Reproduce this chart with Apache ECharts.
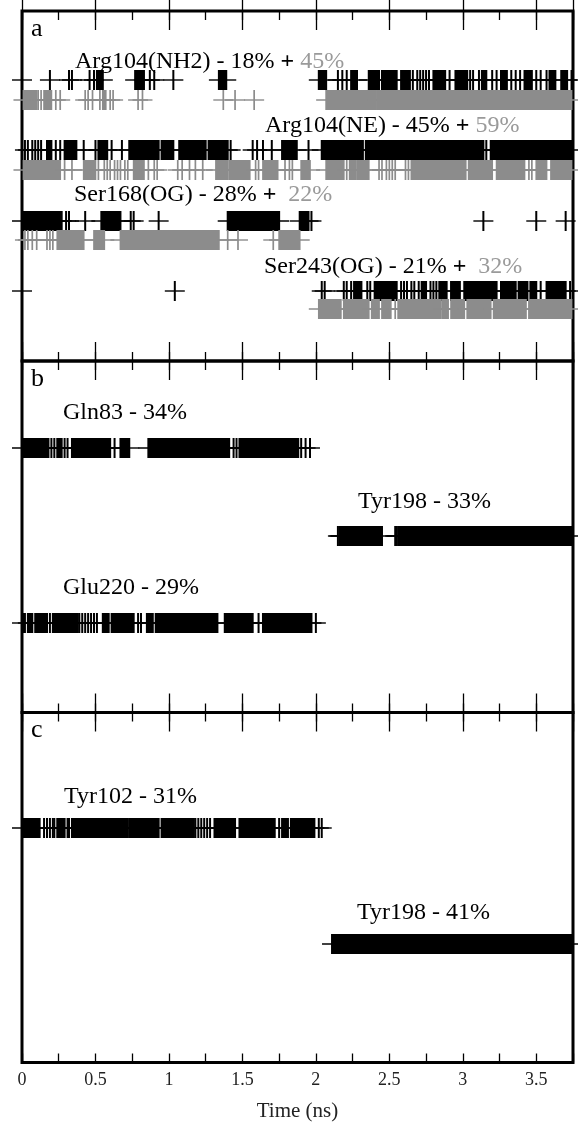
<!DOCTYPE html>
<html>
<head>
<meta charset="utf-8">
<title>H-bond occupancy</title>
<script src="https://cdn.jsdelivr.net/npm/echarts@6/dist/echarts.min.js"></script>
<style>
  html, body { margin: 0; padding: 0; background: #fff; }
  #chart { width: 578px; height: 1123px; }
</style>
</head>
<body>
<div id="chart"></div>
<script>
// time axis, ns
const timeMax = 3.75;

// events: a number is one frame, [a, b] a run of frames
// panel a
const nh2Black = [0, 0.19, 0.32, 0.34, 0.46, 0.49, [0.51, 0.55], [0.77, 0.82], 0.83, 0.87, 0.90, 1.03,
  [1.34, 1.39], [2.02, 2.07], 2.15, 2.18, 2.21, [2.24, 2.28], [2.36, 2.43], [2.45, 2.55], [2.58, 2.64],
  2.66, 2.69, 2.71, 2.73, 2.75, 2.77, [2.80, 2.88], 2.91, [2.95, 3.03], 3.05, 3.07, 3.11, [3.13, 3.16],
  3.20, 3.23, [3.26, 3.30], 3.33, 3.36, 3.39, [3.42, 3.47], 3.50, 3.53, 3.57, [3.59, 3.63], [3.67, 3.71], 3.74];
const nh2Grey = [[0.01, 0.10], 0.11, 0.13, [0.15, 0.20], 0.23, 0.26, 0.43, 0.45, 0.48, 0.53, [0.55, 0.57],
  0.60, 0.62, 0.79, 0.82, 1.37, 1.45, 1.58, [2.07, 2.41], [2.42, 3.74]];
const neBlack = [0.02, 0.04, 0.07, 0.09, 0.11, 0.13, [0.17, 0.20], 0.23, 0.26, [0.29, 0.37], 0.42, 0.50,
  [0.52, 0.58], 0.61, 0.68, [0.73, 0.82], [0.83, 0.93], [0.95, 1.03], [1.07, 1.25], [1.27, 1.40], 1.42,
  1.57, 1.60, 1.64, 1.70, [1.77, 1.87], 1.95, [2.04, 2.32], [2.34, 3.14], 3.16, [3.19, 3.74]];
const neGrey = [[0.01, 0.26], 0.29, 0.34, [0.42, 0.50], 0.52, 0.56, 0.58, 0.60, 0.63, 0.65, 0.67, 0.70, 0.72,
  [0.76, 0.83], 0.86, 0.90, 0.92, 1.06, 1.09, 1.14, 1.18, 1.23, [1.32, 1.40], [1.41, 1.55], 1.59, 1.61,
  [1.64, 1.74], 1.79, 1.82, 1.84, [1.90, 1.96], [2.07, 2.19], 2.21, [2.23, 2.27], [2.28, 2.36], 2.43, 2.45,
  2.48, 2.50, 2.52, 2.54, 2.61, 2.63, [2.65, 3.02], [3.04, 3.20], [3.23, 3.42], 3.45, 3.47, [3.50, 3.57], [3.60, 3.74]];
const ser168Black = [[0, 0.27], 0.30, 0.32, 0.43, [0.54, 0.67], 0.74, 0.76, 0.93, [1.40, 1.75], [1.89, 1.95],
  1.97, 3.14, 3.50, 3.70];
const ser168Grey = [0.02, 0.04, 0.07, 0.10, 0.17, 0.19, 0.21, 0.24, [0.25, 0.42], [0.49, 0.56], [0.67, 1.34],
  1.40, 1.47, 1.71, [1.75, 1.89]];
const ser243Black = [0, 1.04, 2.04, 2.06, 2.19, 2.21, 2.24, [2.26, 2.31], 2.35, 2.37, [2.40, 2.48], [2.49, 2.55],
  2.58, 2.60, 2.62, 2.65, 2.67, 2.70, [2.72, 2.75], 2.78, 2.80, 2.82, [2.84, 2.89], [2.92, 2.98], [3.01, 3.16],
  [3.17, 3.23], [3.26, 3.36], [3.38, 3.44], [3.46, 3.50], 3.53, [3.57, 3.70], 3.73];
const ser243Grey = [[2.02, 2.17], [2.19, 2.36], [2.38, 2.43], [2.45, 2.51], 2.54, [2.56, 2.85], [2.86, 2.90],
  [2.92, 3.01], 3.03, [3.04, 3.19], [3.21, 3.43], [3.45, 3.74]];
// panel b
const gln83 = [[0, 0.17], 0.18, 0.20, 0.22, [0.24, 0.27], 0.29, 0.31, [0.34, 0.60], 0.63, [0.67, 0.73],
  [0.86, 1.41], 1.44, 1.46, [1.48, 1.88], 1.90, 1.93, 1.96];
const tyr198b = [2.15, 2.16, [2.17, 2.45], 2.54, 2.55, [2.56, 3.75]];
const glu220 = [[0, 0.02], [0.04, 0.07], [0.09, 0.17], 0.19, [0.21, 0.38], 0.39, 0.41, 0.43, 0.45, 0.47, 0.49,
  0.51, [0.55, 0.59], [0.61, 0.76], 0.79, 0.81, [0.85, 0.89], [0.91, 1.22], [1.23, 1.33], [1.38, 1.57], 1.61,
  [1.64, 1.97], 2.00];
// panel c
const tyr102 = [[0, 0.12], 0.15, 0.17, 0.19, 0.21, 0.22, [0.24, 0.29], 0.31, 0.32, [0.34, 0.49], [0.50, 0.72],
  [0.73, 0.93], [0.95, 1.17], 1.18, 1.20, 1.22, 1.24, 1.26, 1.28, [1.31, 1.45], [1.48, 1.72], 1.75, [1.77, 1.81],
  [1.83, 1.99], 2.02, 2.04];
const tyr198c = [[2.11, 2.46], [2.47, 3.75]];

const BLACK = '#000';
const GREY = '#8c8c8c';
const FONT = '"Liberation Serif", "DejaVu Serif", serif';

// panels (pixel boxes) and row levels, px below panel top
const panels = [
  { top: 11, height: 350, letter: 'a' },
  { top: 361, height: 351.5, letter: 'b' },
  { top: 712.5, height: 350, letter: 'c' }
];
const rows = [
  { panel: 0, level: 69, color: BLACK, events: nh2Black },
  { panel: 0, level: 89, color: GREY, events: nh2Grey },
  { panel: 0, level: 139, color: BLACK, events: neBlack },
  { panel: 0, level: 159, color: GREY, events: neGrey },
  { panel: 0, level: 210, color: BLACK, events: ser168Black },
  { panel: 0, level: 229, color: GREY, events: ser168Grey },
  { panel: 0, level: 280, color: BLACK, events: ser243Black },
  { panel: 0, level: 298, color: GREY, events: ser243Grey },
  { panel: 1, level: 87, color: BLACK, events: gln83 },
  { panel: 1, level: 175, color: BLACK, events: tyr198b },
  { panel: 1, level: 262, color: BLACK, events: glu220 },
  { panel: 2, level: 115.5, color: BLACK, events: tyr102 },
  { panel: 2, level: 231.5, color: BLACK, events: tyr198c }
];
// row captions: [text, grey part, left, middle y]
const captions = [
  ['Arg104(NH2) - 18% ', '45%', 75, 62],
  ['Arg104(NE) - 45% ', '59%', 265, 126],
  ['Ser168(OG) - 28% ', ' 22%', 74, 195],
  ['Ser243(OG) - 21% ', ' 32%', 264, 267],
  ['Gln83 - 34%', null, 63, 413],
  ['Tyr198 - 33%', null, 358, 502],
  ['Glu220 - 29%', null, 63, 588],
  ['Tyr102 - 31%', null, 64, 797],
  ['Tyr198 - 41%', null, 357, 913]
];

function toItems(events, level) {
  return events.map(ev => Array.isArray(ev) ? [ev[0], ev[1], level] : [ev, ev, level]);
}

function makeRender(color) {
  const thin = color === BLACK ? 2 : 1.7;
  return function (params, api) {
    const a = api.coord([api.value(0), api.value(2)]);
    const b = api.coord([api.value(1), api.value(2)]);
    return {
      type: 'group',
      children: [
        { type: 'line', shape: { x1: a[0] - 10, y1: a[1], x2: b[0] + 10, y2: b[1] },
          style: { stroke: color, lineWidth: 1.4 } },
        { type: 'rect', shape: { x: a[0] - thin / 2, y: a[1] - 10, width: b[0] - a[0] + thin, height: 20 },
          style: { fill: color } }
      ]
    };
  };
}

const grids = [], xAxes = [], yAxes = [];
panels.forEach((p, i) => {
  grids.push({ left: 22, right: 5, top: p.top, height: p.height, show: true,
    borderColor: '#000', borderWidth: 3, backgroundColor: 'transparent' });
  ['bottom', 'top'].forEach(pos => {
    [[0.5, 19], [0.25, 9]].forEach(([step, len]) => {
      const labelled = i === 2 && pos === 'bottom' && step === 0.5;
      xAxes.push({
        gridIndex: i, type: 'value', position: pos, min: 0, max: timeMax, interval: step,
        axisLine: { show: false },
        axisTick: { show: true, inside: true, length: len, lineStyle: { color: '#000', width: 1.3 } },
        axisLabel: { show: labelled, showMaxLabel: false, margin: 9, fontFamily: FONT, fontSize: 18, color: '#222' },
        splitLine: { show: false },
        name: labelled ? 'Time (ns)' : '',
        nameLocation: 'middle', nameGap: 38,
        nameTextStyle: { fontFamily: FONT, fontSize: 21, color: '#222' }
      });
    });
  });
  yAxes.push({ gridIndex: i, type: 'value', inverse: true, min: 0, max: p.height, show: false });
});

const series = rows.map(r => ({
  type: 'custom',
  xAxisIndex: r.panel * 4,
  yAxisIndex: r.panel,
  renderItem: makeRender(r.color),
  encode: { x: [0, 1], y: 2 },
  data: toItems(r.events, r.level),
  silent: true,
  animation: false
}));

const graphics = [];
panels.forEach(p => {
  graphics.push({ type: 'text', x: 31, y: p.top + 18,
    style: { text: p.letter, font: '26px ' + FONT, fill: '#000', verticalAlign: 'middle' } });
});
captions.forEach(([txt, grey, x, y]) => {
  const text = grey === null ? '{k|' + txt + '}' : '{k|' + txt + '}{p|+}{k| }{g|' + grey + '}';
  graphics.push({ type: 'text', x: x, y: y,
    style: {
      text: text, verticalAlign: 'middle', font: '24px ' + FONT,
      rich: {
        k: { fill: '#000', fontFamily: FONT, fontSize: 24 },
        p: { fill: '#000', fontFamily: FONT, fontSize: 24, fontWeight: 'bold' },
        g: { fill: '#9a9a9a', fontFamily: FONT, fontSize: 24 }
      }
    } });
});

const chart = echarts.init(document.getElementById('chart'));
chart.setOption({
  animation: false,
  backgroundColor: '#fff',
  grid: grids,
  xAxis: xAxes,
  yAxis: yAxes,
  series: series,
  graphic: graphics
});
</script>
</body>
</html>
